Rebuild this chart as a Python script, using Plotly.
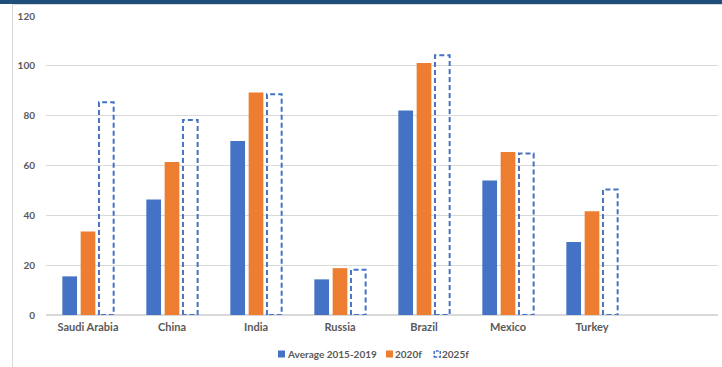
import plotly.graph_objects as go

# Data
countries = ["Saudi Arabia", "China", "India", "Russia", "Brazil", "Mexico", "Turkey"]
avg_2015_2019 = [15.5, 46.4, 69.8, 14.3, 82.1, 54.0, 29.3]
forecast_2020 = [33.5, 61.4, 89.3, 18.8, 101.1, 65.4, 41.6]
forecast_2025 = [85.4, 78.3, 88.6, 18.2, 104.2, 64.8, 50.4]
y_ticks = [0, 20, 40, 60, 80, 100, 120]

BLUE = "#4472C4"
ORANGE = "#ED7D31"
TEXT = "#595959"
GRID = "#D9D9D9"
FONT = "Lato"

BAR_W = 0.175
STEP = 0.218
N_SLOTS = 8  # one empty slot after the last country

xs = list(range(len(countries)))


def offset(k):
    return (k - 1) * STEP - BAR_W / 2


fig = go.Figure()

fig.add_trace(go.Bar(
    x=xs, y=avg_2015_2019, name="Average 2015-2019",
    width=BAR_W, offset=offset(0),
    marker=dict(color=BLUE, line=dict(width=0)), showlegend=False,
))
fig.add_trace(go.Bar(
    x=xs, y=forecast_2020, name="2020f",
    width=BAR_W, offset=offset(1),
    marker=dict(color=ORANGE, line=dict(width=0)), showlegend=False,
))

# 2025f: unfilled bars with a dashed outline
ox, oy = [], []
for i, v in zip(xs, forecast_2025):
    x0 = i + offset(2)
    x1 = x0 + BAR_W
    ox += [x0, x0, x1, x1, x0, None]
    oy += [0, v, v, 0, 0, None]
fig.add_trace(go.Scatter(
    x=ox, y=oy, mode="lines", name="2025f", showlegend=False,
    line=dict(color=BLUE, width=2, dash="5px,3px"),
    hoverinfo="skip",
))

L, R, T, B = 46, 4, 16, 52
W, H = 722, 367
pw, ph = W - L - R, H - T - B


def px_x(p):
    return (p - L) / pw


def px_y(p):
    return (H - B - p) / ph


shapes = [
    # header band
    dict(type="rect", xref="paper", yref="paper",
         x0=px_x(0), x1=px_x(W), y0=px_y(4), y1=px_y(-2),
         fillcolor="#1F4E79", line=dict(width=0), layer="above"),
    dict(type="line", xref="paper", yref="paper",
         x0=px_x(12), x1=px_x(W), y0=px_y(4.5), y1=px_y(4.5),
         line=dict(color=GRID, width=1)),
    # left frame line
    dict(type="line", xref="paper", yref="paper",
         x0=px_x(12.5), x1=px_x(12.5), y0=px_y(4.5), y1=px_y(H + 2),
         line=dict(color=GRID, width=1)),
]

# legend, laid out by hand
legend_items = [
    ("Average 2015-2019", BLUE, "solid", 278),
    ("2020f", ORANGE, "solid", 386),
    ("2025f", BLUE, "dash", 433.5),
]
annotations = []
for label, color, style, x_px in legend_items:
    if style == "solid":
        shapes.append(dict(type="rect", xref="paper", yref="paper",
                           x0=px_x(x_px), x1=px_x(x_px + 7),
                           y0=px_y(357.5), y1=px_y(350.5),
                           fillcolor=color, line=dict(width=0)))
    else:
        shapes.append(dict(type="rect", xref="paper", yref="paper",
                           x0=px_x(x_px + 0.75), x1=px_x(x_px + 6.75),
                           y0=px_y(357), y1=px_y(351),
                           fillcolor="rgba(0,0,0,0)",
                           line=dict(color=color, width=1.5, dash="3px,1.5px")))
    annotations.append(dict(
        xref="paper", yref="paper", x=px_x(x_px + 6.5), y=px_y(353.5),
        text=label, showarrow=False, xanchor="left", yanchor="middle",
        font=dict(family=FONT, size=10, color=TEXT, weight="bold"),
    ))

fig.update_layout(
    width=W, height=H,
    margin=dict(l=L, r=R, t=T, b=B, pad=0),
    paper_bgcolor="white", plot_bgcolor="white",
    barmode="overlay",
    showlegend=False,
    shapes=shapes,
    annotations=annotations,
    xaxis=dict(
        type="linear", range=[-0.5, N_SLOTS - 0.5],
        tickmode="array", tickvals=xs, ticktext=countries,
        showgrid=False, zeroline=False, showline=False, ticks="",
        tickfont=dict(family=FONT, size=11, color=TEXT, weight="bold"),
        ticklabelstandoff=4,
    ),
    yaxis=dict(
        range=[0, 120], tickmode="array", tickvals=y_ticks,
        showgrid=True, gridcolor=GRID, gridwidth=1,
        zeroline=True, zerolinecolor=GRID, zerolinewidth=1.5,
        showline=False, ticks="",
        tickfont=dict(family=FONT, size=10, color=TEXT, weight="bold"),
        ticklabelstandoff=10,
    ),
)

fig.write_html("out.html")
